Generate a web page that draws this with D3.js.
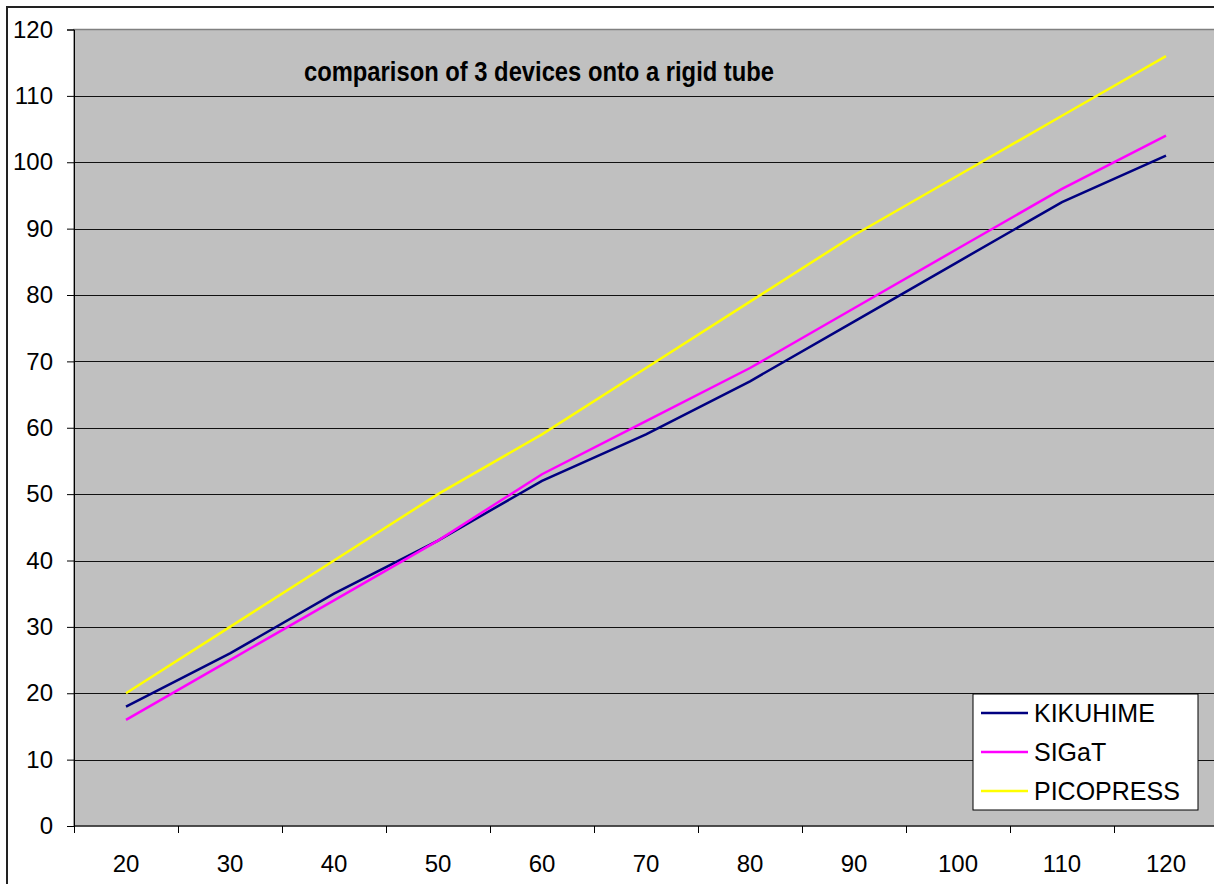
<!DOCTYPE html>
<html>
<head>
  <meta charset="utf-8">
  <title>comparison of 3 devices</title>
  <script src="https://d3js.org/d3.v7.min.js"></script>
  <style>
    body { margin: 0; background: #fff; }
    svg text { font-family: "Liberation Sans", Arial, sans-serif; fill: #000; }
  </style>
</head>
<body>
  <div id="chart"></div>
  <script>
    "use strict"

    var categories = [20, 30, 40, 50, 60, 70, 80, 90, 100, 110, 120];
    var kikuhime  = [18, 26, 35, 43, 52, 59, 67, 76, 85, 94, 101];
    var sigat     = [16, 25, 34, 43, 53, 61, 69, 78, 87, 96, 104];
    var picopress = [20, 30, 40, 50, 59, 69, 79, 89, 98, 107, 116];
    var yTicks = d3.range(0, 121, 10);

    var series = [
      { name: "KIKUHIME", values: kikuhime, color: "#000080" },
      { name: "SIGaT", values: sigat, color: "#ff00ff" },
      { name: "PICOPRESS", values: picopress, color: "#ffff00" }
    ];

    var width = 1214, height = 884;
    var margin = { top: 29.5, left: 74, bottom: 58 };

    var svg = d3.select("#chart").append("svg")
      .attr("width", width)
      .attr("height", height);

    // outer chart frame
    svg.append("rect")
      .attr("x", 7).attr("y", 7)
      .attr("width", width + 20).attr("height", height + 20)
      .attr("fill", "#fff")
      .attr("stroke", "#222")
      .attr("stroke-width", 2);

    var x = d3.scaleBand()
      .domain(categories)
      .range([margin.left, margin.left + categories.length * 104]);

    var y = d3.scaleLinear()
      .domain([0, 120])
      .range([height - margin.bottom, margin.top]);

    // plot area
    svg.append("rect")
      .attr("x", x.range()[0])
      .attr("y", y(120))
      .attr("width", x.range()[1] - x.range()[0])
      .attr("height", y(0) - y(120))
      .attr("fill", "#c0c0c0")
      .attr("stroke", "#808080")
      .attr("stroke-width", 1.5);

    // gridlines
    svg.append("g")
      .selectAll("line")
      .data(yTicks.filter(d => d > 0 && d < 120))
      .enter().append("line")
        .attr("x1", x.range()[0])
        .attr("x2", x.range()[1])
        .attr("y1", d => Math.round(y(d)) + 0.5)
        .attr("y2", d => Math.round(y(d)) + 0.5)
        .attr("stroke", "#111")
        .attr("stroke-width", 1.2);

    // y axis
    var yAxis = svg.append("g")
      .attr("transform", "translate(" + margin.left + ",0)")
      .call(d3.axisLeft(y).tickValues(yTicks).tickSize(7).tickPadding(14));
    yAxis.select(".domain").attr("stroke", "#000");
    yAxis.selectAll(".tick line").attr("stroke", "#000");
    yAxis.selectAll("text")
      .style("font-size", "24px")
      .style("font-family", "'Liberation Sans', Arial, sans-serif");

    // x axis: ticks at band boundaries, labels at band centers
    var xAxis = svg.append("g")
      .attr("transform", "translate(0," + y(0) + ")");
    xAxis.append("line")
      .attr("x1", x.range()[0]).attr("x2", x.range()[1])
      .attr("stroke", "#000");
    xAxis.selectAll(".xtick")
      .data(categories)
      .enter().append("line")
        .attr("class", "xtick")
        .attr("x1", d => Math.round(x(d)) + 0.5)
        .attr("x2", d => Math.round(x(d)) + 0.5)
        .attr("y1", 0).attr("y2", 7)
        .attr("stroke", "#000");
    xAxis.selectAll(".xlab")
      .data(categories)
      .enter().append("text")
        .attr("class", "xlab")
        .attr("x", d => x(d) + x.bandwidth() / 2)
        .attr("y", 46)
        .attr("text-anchor", "middle")
        .style("font-size", "24px")
        .text(d => d);

    // lines
    var line = d3.line()
      .x((d, i) => x(categories[i]) + x.bandwidth() / 2)
      .y(d => y(d));

    svg.append("g")
      .selectAll("path")
      .data(series)
      .enter().append("path")
        .attr("d", d => line(d.values))
        .attr("fill", "none")
        .attr("stroke", d => d.color)
        .attr("stroke-width", 2.5);

    // title (condensed a bit, like the original)
    svg.append("text")
      .attr("x", 304)
      .attr("y", 81)
      .attr("textLength", 470)
      .attr("lengthAdjust", "spacingAndGlyphs")
      .style("font-size", "27px")
      .style("font-weight", "bold")
      .text("comparison of 3 devices onto a rigid tube");

    // legend
    var legend = svg.append("g").attr("transform", "translate(973,694)");
    legend.append("rect")
      .attr("width", 225).attr("height", 116)
      .attr("fill", "#fff")
      .attr("stroke", "#000");
    var item = legend.selectAll(".item")
      .data(series)
      .enter().append("g")
        .attr("transform", (d, i) => "translate(0," + (19 + i * 39) + ")");
    item.append("line")
      .attr("x1", 8).attr("x2", 55)
      .attr("stroke", d => d.color)
      .attr("stroke-width", 2.5);
    item.append("text")
      .attr("x", 61).attr("y", 9)
      .style("font-size", "25px")
      .text(d => d.name);
  </script>
</body>
</html>
